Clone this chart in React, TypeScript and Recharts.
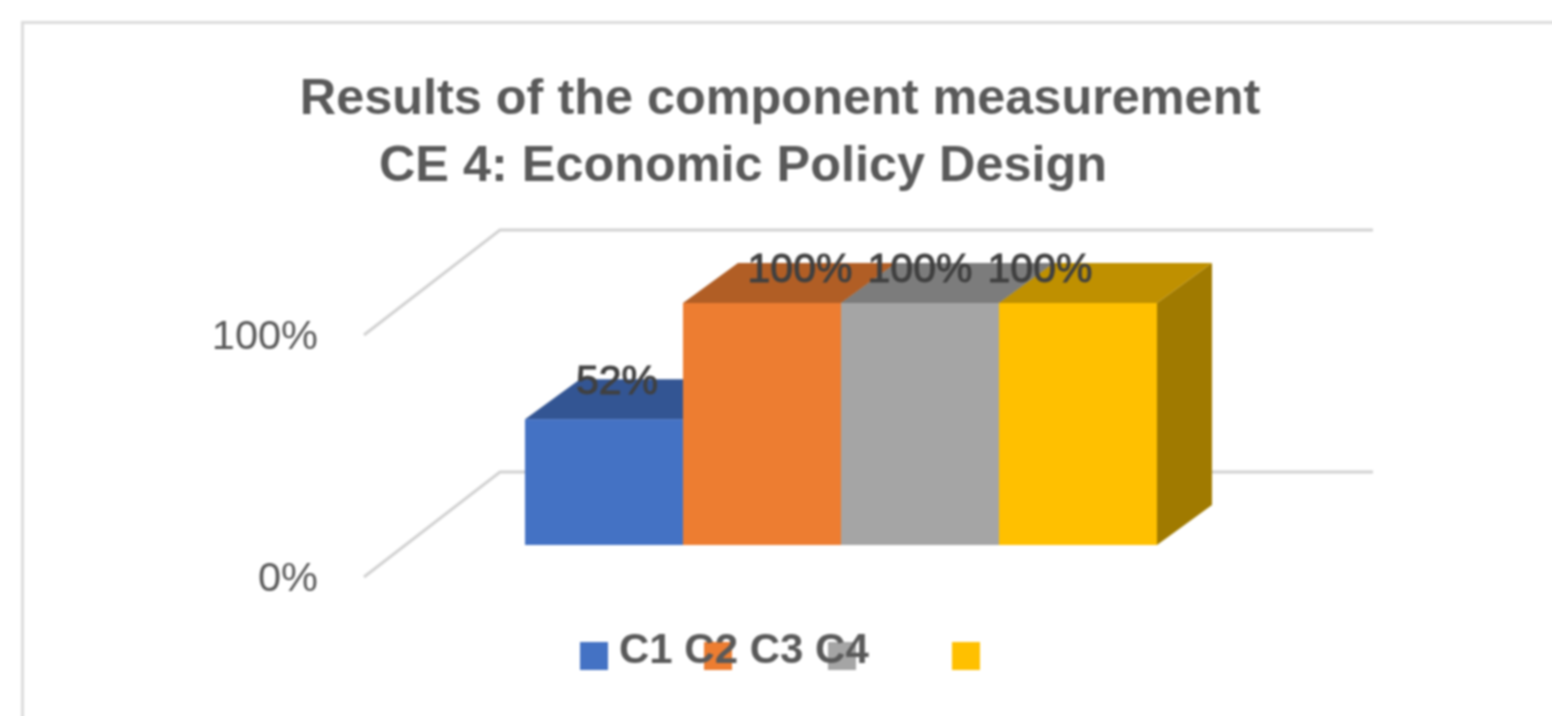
import { BarChart, Bar, XAxis, YAxis, Legend, CartesianGrid } from "recharts"

const categories = ["CE 4"]
const seriesNames = ["C1", "C2", "C3", "C4"]
const seriesValues = [52, 100, 100, 100]
const yTicks = [0, 100]
const titleLines = ["Results of the component measurement", "CE 4: Economic Policy Design"]

const frontColors = ["#4472c4", "#ed7d31", "#a5a5a5", "#ffc000"]
const topColors = ["#335593", "#b15e25", "#7c7c7c", "#bf9000"]
const sideColors = ["#2a4a85", "#9c5220", "#6e6e6e", "#a07a00"]

// the labels in the picture sit off-centre, each one a bit differently
const labelDx = [13, 38, 0, -38]
const labelDy = [-25, -21, -21, -21]

const depthX = 55
const depthY = 40

const data = categories.map((category) => {
  const row: Record<string, string | number> = { category }
  seriesNames.forEach((name, i) => {
    row[name] = seriesValues[i]
  })
  return row
})

function Box3D(props: any) {
  const { x, y, width, height, index } = props
  const i = index as number
  const top = `${x},${y} ${x + depthX},${y - depthY} ${x + width + depthX},${y - depthY} ${x + width},${y}`
  const side = `${x + width},${y} ${x + width + depthX},${y - depthY} ${x + width + depthX},${y + height - depthY} ${x + width},${y + height}`
  return (
    <g>
      <polygon points={side} fill={sideColors[i]} />
      <polygon points={top} fill={topColors[i]} />
      <rect x={x} y={y} width={width} height={height} fill={frontColors[i]} />
    </g>
  )
}

// floor and back wall lines, one per y tick
function WallLine(props: any) {
  const { y1, index } = props
  return (
    <polyline
      key={index}
      points={`364,${y1 + 32} 500,${y1 - 73} 1373,${y1 - 73}`}
      fill="none"
      stroke="#d2d2d2"
      strokeWidth={3}
    />
  )
}

function WallTick(props: any) {
  const { y, payload } = props
  return (
    <text x={318} y={y + 46} textAnchor="end" fontSize={41.5} fill="#595959">
      {payload.value}%
    </text>
  )
}

function LegendRow(props: any) {
  const { payload } = props
  return (
    <div style={{ height: 0, position: "relative" }}>
      {payload.map((item: any, i: number) => (
        <div
          key={item.value}
          style={{
            position: "absolute",
            left: 580 + i * 124,
            top: 642,
            width: 28,
            height: 28,
            background: frontColors[i],
          }}
        />
      ))}
      <div
        style={{
          position: "absolute",
          left: 619,
          top: 625,
          fontSize: 42,
          lineHeight: "48px",
          fontWeight: 700,
          color: "#595959",
          whiteSpace: "nowrap",
        }}
      >
        {payload.map((item: any) => item.value).join(" ")}
      </div>
    </div>
  )
}

export default function App() {
  return (
    <div
      style={{
        position: "fixed",
        left: 0,
        top: 0,
        width: 1570,
        height: 734,
        background: "#fff",
        overflow: "hidden",
        fontFamily: "'Liberation Sans', Arial, sans-serif",
        filter: "blur(1px)",
      }}
    >
      <div
        style={{
          position: "absolute",
          left: 21,
          top: 21,
          width: 1600,
          height: 800,
          border: "3px solid #dcdcdc",
          boxSizing: "border-box",
        }}
      />
      <BarChart
        width={1552}
        height={716}
        data={data}
        margin={{ top: 303, right: 395, bottom: 171, left: 325 }}
        barCategoryGap={0}
        barGap={0}
        style={{ position: "absolute", left: 0, top: 0 }}
      >
        <CartesianGrid vertical={false} horizontal={(p: any) => <WallLine {...p} />} />
        <XAxis dataKey="category" hide />
        <YAxis
          width={200}
          domain={[0, 100]}
          ticks={yTicks}
          interval={0}
          axisLine={false}
          tickLine={false}
          tick={<WallTick />}
        />
        <Legend
          content={<LegendRow />}
          wrapperStyle={{ position: "absolute", left: 0, top: 0, bottom: "auto", width: 1552, height: 0 }}
        />
        {seriesNames.map((name, i) => (
          <Bar
            key={name}
            dataKey={name}
            isAnimationActive={false}
            fill={frontColors[i]}
            shape={(p: any) => <Box3D {...p} index={i} />}
            label={(p: any) => (
              <text
                x={p.x + p.width / 2 + labelDx[i]}
                y={p.y + labelDy[i]}
                textAnchor="middle"
                fontSize={41}
                fill="#404040"
                stroke="#404040"
                strokeWidth={1}
              >
                {p.value}%
              </text>
            )}
          />
        ))}
      </BarChart>
      {titleLines.map((line, i) => (
        <div
          key={line}
          style={{
            position: "absolute",
            left: i === 0 ? 780 : 743,
            top: 68 + i * 67,
            transform: "translateX(-50%)",
            fontSize: 50.4,
            lineHeight: "58px",
            fontWeight: 700,
            color: "#595959",
            whiteSpace: "nowrap",
          }}
        >
          {line}
        </div>
      ))}
    </div>
  )
}
